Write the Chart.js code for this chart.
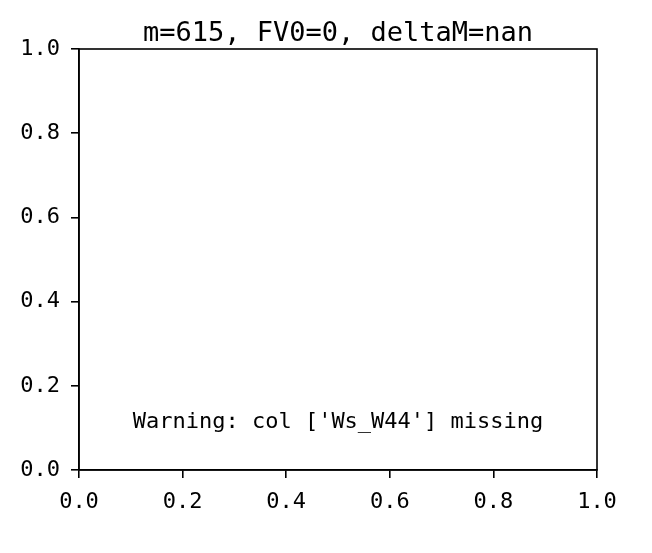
<!DOCTYPE html>
<html>
<head>
<meta charset="utf-8">
<script src="https://cdn.jsdelivr.net/npm/chart.js@4.4.1/dist/chart.umd.min.js"></script>
<style>
html, body { margin: 0; padding: 0; background: #fff; }
</style>
</head>
<body>
<canvas id="myChart" width="652" height="553"></canvas>
<script>
// data of the figure (empty axes, only a warning text)
const xTicks = [0, 0.2, 0.4, 0.6, 0.8, 1.0];
const yTicks = [0, 0.2, 0.4, 0.6, 0.8, 1.0];
const xTickLabels = ['0.0', '0.2', '0.4', '0.6', '0.8', '1.0'];
const yTickLabels = ['0.0', '0.2', '0.4', '0.6', '0.8', '1.0'];
const titleText = 'm=615, FV0=0, deltaM=nan';
const warningText = "Warning: col ['Ws_W44'] missing";
const warningPos = [0.5, 0.1];

const FONT = "'DejaVu Sans Mono', 'Liberation Mono', monospace";

// frame + title + warning text
const framePlugin = {
    id: 'frame',
    afterDraw(chart) {
        const ctx = chart.ctx;
        const a = chart.chartArea;
        const xs = chart.scales.x;
        const ys = chart.scales.y;
        ctx.save();
        ctx.strokeStyle = '#000';
        ctx.lineWidth = 1.6;
        ctx.strokeRect(a.left, a.top, a.right - a.left, a.bottom - a.top);

        ctx.fillStyle = '#000';
        ctx.textAlign = 'center';
        ctx.textBaseline = 'alphabetic';
        ctx.font = '27px ' + FONT;
        ctx.fillText(titleText, (a.left + a.right) / 2, a.top - 8);

        ctx.font = '22px ' + FONT;
        ctx.fillText(warningText, xs.getPixelForValue(warningPos[0]), ys.getPixelForValue(warningPos[1]));
        ctx.restore();
    }
};

const ctx = document.getElementById('myChart').getContext('2d');
window.myChart = new Chart(ctx, {
    type: 'scatter',
    data: { datasets: [{ data: [] }] },
    options: {
        responsive: false,
        animation: false,
        devicePixelRatio: 1,
        layout: { padding: { left: 0, right: 55, top: 49, bottom: 0 } },
        plugins: {
            legend: { display: false },
            tooltip: { enabled: false },
            title: { display: false }
        },
        scales: {
            x: {
                type: 'linear',
                min: 0, max: 1,
                afterBuildTicks(scale) { scale.ticks = xTicks.map(v => ({ value: v })); },
                afterFit(scale) { scale.height = 83; },
                ticks: {
                    color: '#000',
                    padding: 11,
                    maxRotation: 0,
                    font: { family: FONT, size: 22 },
                    callback: (v, i) => xTickLabels[i]
                },
                grid: { drawOnChartArea: false, drawTicks: true, tickLength: 8, color: '#000', lineWidth: 1.6 },
                border: { display: true, color: '#000', width: 1.6 }
            },
            y: {
                type: 'linear',
                min: 0, max: 1,
                afterBuildTicks(scale) { scale.ticks = yTicks.map(v => ({ value: v })); },
                afterFit(scale) { scale.width = 79; },
                ticks: {
                    color: '#000',
                    padding: 11,
                    font: { family: FONT, size: 22 },
                    callback: (v, i) => yTickLabels[i]
                },
                grid: { drawOnChartArea: false, drawTicks: true, tickLength: 8, color: '#000', lineWidth: 1.6 },
                border: { display: true, color: '#000', width: 1.6 }
            }
        }
    },
    plugins: [framePlugin]
});
</script>
</body>
</html>
